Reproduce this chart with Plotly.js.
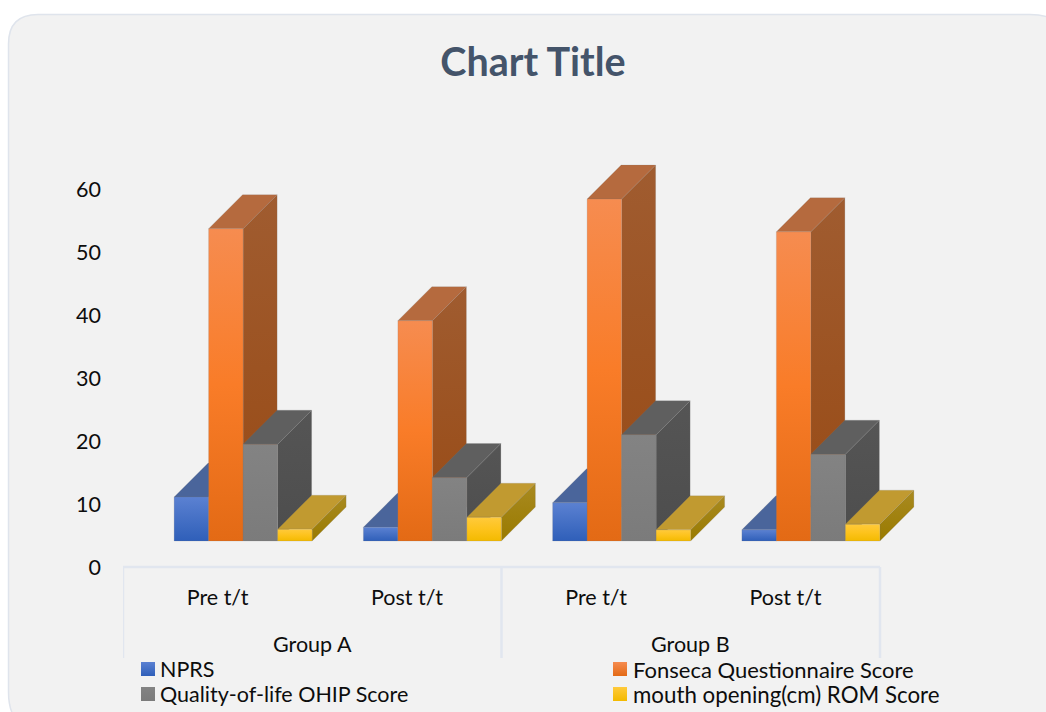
<!DOCTYPE html>
<html>
<head>
<meta charset="utf-8">
<script src="https://cdn.plot.ly/plotly-3.0.1.min.js"></script>
<style>
    html, body { margin: 0; padding: 0; background: #ffffff; overflow: hidden; }
    #plot { width: 1046px; height: 712px; }
</style>
</head>
<body>
<div id="plot"></div>
<script>
// ============================================
// DATA
// ============================================

const categories = ["Pre t/t", "Post t/t", "Pre t/t", "Post t/t"];
const groups = ["Group A", "Group B"];
const yTicks = [0, 10, 20, 30, 40, 50, 60];

const seriesNames = [
    "NPRS",
    "Fonseca Questionnaire Score",
    "Quality-of-life OHIP Score",
    "mouth opening(cm) ROM Score"
];

// read against the printed axis (top edge of each front face)
const nprs = [11.1, 6.3, 10.2, 5.9];
const fonseca = [53.7, 39.1, 58.4, 53.2];
const ohip = [19.5, 14.2, 21.0, 17.9];
const rom = [6.0, 7.9, 5.9, 6.8];

const seriesValues = [nprs, fonseca, ohip, rom];

// ============================================
// STYLE
// ============================================

const W = 1046;
const H = 712;
const FONT = "Lato, 'Open Sans', sans-serif";
const TEXT_COLOR = "#0d0d0d";
const TEXT_SIZE = 21.5;
const legendFontSizes = [21.5, 22, 21.5, 22.3];

// top, middle, bottom of each front face
const frontColors = [
    ["#5b81d2", "#4570c5", "#2f5fb9"],
    ["#f68c50", "#f97c28", "#e36a15"],
    ["#838383", "#7f7f7f", "#7b7b7b"],
    ["#ffca3c", "#fdc31c", "#f3ba00"]
];
const topColors = ["#4a659b", "#b56a3e", "#5f5f5f", "#c19a30"];
const sideColors = [
    ["#3f5a90", "#375285", "#2f4a80"],
    ["#a05c30", "#9c5322", "#984a14"],
    ["#555555", "#515151", "#4d4d4d"],
    ["#a98a20", "#a18210", "#997a00"]
];

// ============================================
// GEOMETRY (px of the picture -> axis units)
// ============================================

const plotLeft = 123;
const plotRight = 930;
const plotTop = 150;
const plotBottom = 567;
const pxPerCat = 189.25;
const pxPerUnit = 6.3;

const xMin = -0.5;
const xMax = xMin + (plotRight - plotLeft) / pxPerCat;
const yMax = (plotBottom - plotTop) / pxPerUnit;

const floorLevel = (plotBottom - 541) / pxPerUnit;
const barWidth = 34.5 / pxPerCat;
const clusterShift = 25.5 / pxPerCat;
const depthX = 34 / pxPerCat;
const depthY = 34 / pxPerUnit;

function paperX(px) {
    return px / W;
}

function paperY(px) {
    return 1 - px / H;
}

function face(xs, ys, fill) {
    return {
        x: xs,
        y: ys,
        type: "scatter",
        mode: "lines",
        line: { width: 0.5, color: "rgba(120,120,120,0.35)" },
        fill: "toself",
        showlegend: false,
        hoverinfo: "skip",
        ...fill
    };
}

// vertical gradient: position 0 of the scale sits at the bottom of the face
function gradient(stops) {
    return {
        fillgradient: {
            type: "vertical",
            colorscale: [[0, stops[2]], [0.5, stops[1]], [1, stops[0]]]
        }
    };
}

// ============================================
// BARS
// ============================================

let traces = [];

seriesValues.forEach((values, s) => {

    values.forEach((v, i) => {

        const x0 = i + clusterShift + (s - 2) * barWidth;
        const x1 = x0 + barWidth;

        // side
        traces.push(face(
            [x1, x1 + depthX, x1 + depthX, x1, x1],
            [floorLevel, floorLevel + depthY, v + depthY, v, floorLevel],
            gradient(sideColors[s])
        ));

        // top
        traces.push(face(
            [x0, x1, x1 + depthX, x0 + depthX, x0],
            [v, v, v + depthY, v + depthY, v],
            { fillcolor: topColors[s] }
        ));

        // front
        traces.push(face(
            [x0, x1, x1, x0, x0],
            [floorLevel, floorLevel, v, v, floorLevel],
            gradient(frontColors[s])
        ));
    });
});

// ============================================
// LEGEND (two columns, swatches on a full page pixel axis)
// ============================================

const legendSwatchX = [148, 620, 148, 620];
const legendTextX = [160, 633, 160, 633];
const legendRowY = [669, 669, 694, 694];

let annotations = [];

seriesNames.forEach((name, s) => {

    traces.push({
        x: [legendSwatchX[s]],
        y: [legendRowY[s]],
        xaxis: "x2",
        yaxis: "y2",
        type: "scatter",
        mode: "markers",
        marker: {
            symbol: "square",
            size: 14,
            color: frontColors[s][0],
            gradient: { type: "vertical", color: frontColors[s][2] }
        },
        showlegend: false,
        hoverinfo: "skip"
    });

    annotations.push({
        text: name,
        xref: "paper",
        yref: "paper",
        x: paperX(legendTextX[s]),
        y: paperY(legendRowY[s]),
        xanchor: "left",
        yanchor: "middle",
        showarrow: false,
        xshift: -2,
        font: { family: FONT, size: legendFontSizes[s], color: TEXT_COLOR }
    });
});

groups.forEach((g, i) => {
    annotations.push({
        text: g,
        xref: "x",
        yref: "paper",
        x: i * 2 + 0.5,
        y: paperY(644),
        showarrow: false,
        yanchor: "middle",
        font: { family: FONT, size: TEXT_SIZE, color: TEXT_COLOR }
    });
});

// ============================================
// LAYOUT
// ============================================

// card outline, in page pixels; it runs off the right and bottom edges
const px = (x, y) => paperX(x).toFixed(5) + "," + paperY(y).toFixed(5);
const cardPath =
    "M " + px(8.5, 692) +
    " L " + px(8.5, 44) +
    " Q " + px(8.5, 14.5) + " " + px(38, 14.5) +
    " L " + px(1030, 14.5) +
    " Q " + px(1052, 14.5) + " " + px(1060, 26) +
    " L " + px(1060, 730) +
    " L " + px(30, 730) +
    " Q " + px(8.5, 722) + " " + px(8.5, 692) +
    " Z";

const axisLine = { color: "#e1e6ef", width: 2.5 };

function axisShape(x0, x1, y0, y1) {
    return {
        type: "line",
        xref: "x",
        yref: "paper",
        x0: x0,
        x1: x1,
        y0: paperY(y0),
        y1: paperY(y1),
        line: axisLine,
        layer: "below"
    };
}

const shapes = [
    {
        type: "path",
        xref: "paper",
        yref: "paper",
        path: cardPath,
        fillcolor: "#f2f2f2",
        line: { color: "#dfe4ec", width: 1.5 },
        layer: "below"
    },
    axisShape(-0.5, 3.5, 567, 567),
    axisShape(-0.5, -0.5, 567, 658),
    axisShape(1.5, 1.5, 567, 658),
    axisShape(3.5, 3.5, 567, 658)
];

const layout = {
    width: W,
    height: H,
    margin: { l: 0, r: 0, t: 0, b: 0 },
    paper_bgcolor: "#ffffff",
    plot_bgcolor: "rgba(0,0,0,0)",
    showlegend: false,
    title: {
        text: "<b>Chart Title</b>",
        x: 533 / W,
        xanchor: "center",
        y: 1 - 62 / H,
        yanchor: "middle",
        font: { family: FONT, size: 39.5, color: "#44546a" }
    },
    xaxis: {
        domain: [plotLeft / W, plotRight / W],
        range: [xMin, xMax],
        tickmode: "array",
        tickvals: categories.map((c, i) => i),
        ticktext: categories,
        ticks: "",
        ticklabelstandoff: 15,
        showgrid: false,
        zeroline: false,
        showline: false,
        tickfont: { family: FONT, size: TEXT_SIZE, color: TEXT_COLOR },
        anchor: "y"
    },
    yaxis: {
        domain: [1 - plotBottom / H, 1 - plotTop / H],
        range: [0, yMax],
        tickmode: "array",
        tickvals: yTicks,
        ticks: "",
        ticklabelstandoff: 21,
        showgrid: false,
        zeroline: false,
        showline: false,
        tickfont: { family: FONT, size: TEXT_SIZE, color: TEXT_COLOR },
        anchor: "x"
    },
    xaxis2: {
        domain: [0, 1],
        range: [0, W],
        visible: false,
        anchor: "y2"
    },
    yaxis2: {
        domain: [0, 1],
        range: [H, 0],
        visible: false,
        anchor: "x2"
    },
    shapes: shapes,
    annotations: annotations
};

Plotly.newPlot("plot", traces, layout, { displayModeBar: false, responsive: false });
</script>
</body>
</html>
